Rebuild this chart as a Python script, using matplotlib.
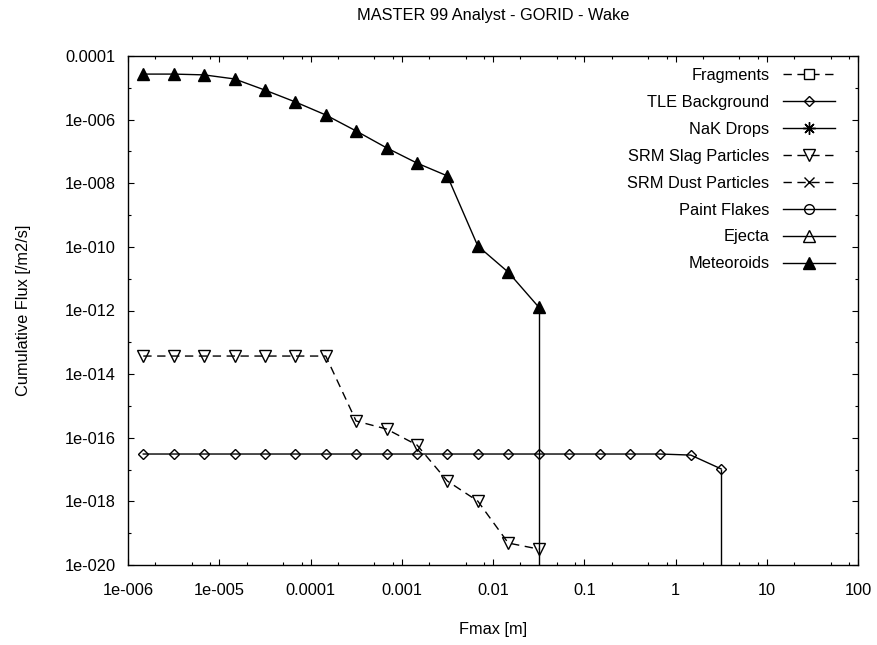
import matplotlib
matplotlib.use('Agg')
import matplotlib.pyplot as plt
from matplotlib.ticker import FixedLocator, NullFormatter

plt.rcParams['font.family'] = ['Liberation Sans', 'DejaVu Sans']

# bin centres of Fmax [m]
fmax = [1.47e-6, 3.16e-6, 6.81e-6, 1.47e-5, 3.16e-5, 6.81e-5, 1.47e-4,
        3.16e-4, 6.81e-4, 1.47e-3, 3.16e-3, 6.81e-3, 1.47e-2, 3.16e-2,
        6.81e-2, 0.147, 0.316, 0.681, 1.47, 3.16]

# cumulative flux [/m2/s]
tle = [3.08e-17] * 18 + [2.85e-17, 1.05e-17]
srm_slag = [3.7e-14, 3.7e-14, 3.7e-14, 3.7e-14, 3.7e-14, 3.7e-14, 3.7e-14,
            3.36e-16, 1.88e-16, 5.9e-17, 4.36e-18, 1.02e-18, 4.9e-20, 3.17e-20]
meteoroids = [2.7e-5, 2.7e-5, 2.55e-5, 1.9e-5, 8.5e-6, 3.6e-6, 1.4e-6,
              4.4e-7, 1.3e-7, 4.3e-8, 1.7e-8, 1.07e-10, 1.6e-11, 1.29e-12]
fragments = []
nak_drops = []
srm_dust = []
paint_flakes = []
ejecta = []

x_ticks = [1e-6, 1e-5, 1e-4, 1e-3, 1e-2, 0.1, 1, 10, 100]
x_labels = ['1e-006', '1e-005', '0.0001', '0.001', '0.01', '0.1', '1', '10', '100']
y_ticks = [1e-4, 1e-6, 1e-8, 1e-10, 1e-12, 1e-14, 1e-16, 1e-18, 1e-20]
y_labels = ['0.0001', '1e-006', '1e-008', '1e-010', '1e-012', '1e-014',
            '1e-016', '1e-018', '1e-020']

fs = 11.8
dash = (6, 4)

fig = plt.figure(figsize=(8.77, 6.45), dpi=100)
ax = fig.add_axes([128/877, 1 - 565/645, 730/877, 509/645])
ax.set_xscale('log')
ax.set_yscale('log')
ax.set_xlim(1e-6, 100)
ax.set_ylim(1e-20, 1e-4)

ax.plot(fragments, fragments[:0], color='black', lw=1, ls=(0, dash),
        marker='s', mfc='white', mec='black', ms=7, label='Fragments')
ax.plot(fmax[:len(tle)], tle, color='black', lw=1, marker='D', mfc='none',
        mec='black', ms=5.5, label='TLE Background')
ax.plot(nak_drops, nak_drops[:0], color='black', lw=1, marker=(8, 2, 0),
        ms=9, mew=1, label='NaK Drops')
ax.plot(fmax[:len(srm_slag)], srm_slag, color='black', lw=1, ls=(0, dash),
        marker='v', mfc='none', mec='black', ms=8.5, label='SRM Slag Particles')
ax.plot(srm_dust, srm_dust[:0], color='black', lw=1, ls=(0, dash),
        marker='x', ms=7, mew=1, label='SRM Dust Particles')
ax.plot(paint_flakes, paint_flakes[:0], color='black', lw=1, marker='o',
        mfc='none', mec='black', ms=7, label='Paint Flakes')
ax.plot(ejecta, ejecta[:0], color='black', lw=1, marker='^', mfc='none',
        mec='black', ms=8, label='Ejecta')
ax.plot(fmax[:len(meteoroids)], meteoroids, color='black', lw=1, marker='^',
        mfc='black', mec='black', ms=8.5, label='Meteoroids')

# curves drop to zero after their last bin
ax.vlines(fmax[len(tle) - 1], 1e-20, tle[-1], color='black', lw=1)
ax.vlines(fmax[len(meteoroids) - 1], 1e-20, meteoroids[-1], color='black', lw=1)

ax.xaxis.set_major_locator(FixedLocator(x_ticks))
ax.set_xticklabels(x_labels)
x_minor = [m * d for d in x_ticks[:-1] for m in (2, 5, 8)]
ax.xaxis.set_minor_locator(FixedLocator(x_minor))
ax.xaxis.set_minor_formatter(NullFormatter())
ax.yaxis.set_major_locator(FixedLocator(y_ticks))
ax.set_yticklabels(y_labels)
y_minor = [t / 10 for t in y_ticks[:-1]]
ax.yaxis.set_minor_locator(FixedLocator(y_minor))
ax.yaxis.set_minor_formatter(NullFormatter())

ax.tick_params(which='both', direction='in', top=True, right=True, labelsize=fs)
ax.tick_params(which='major', length=4, width=0.8)
ax.tick_params(which='minor', length=2.5, width=0.8)
ax.tick_params(axis='x', which='major', pad=13)
ax.tick_params(axis='y', which='major', pad=9)
for sp in ax.spines.values():
    sp.set_linewidth(1)

ax.set_xlabel('Fmax [m]', fontsize=fs)
ax.xaxis.set_label_coords(0.5, -0.112)
ax.set_ylabel('Cumulative Flux [/m2/s]', fontsize=fs)
ax.yaxis.set_label_coords(-0.133, 0.5)
ax.set_title('MASTER 99 Analyst - GORID - Wake', fontsize=fs, pad=26)

leg = ax.legend(loc='upper right', bbox_to_anchor=(0.9685, 0.977), frameon=False,
                markerfirst=False, fontsize=fs, handlelength=3.2,
                handletextpad=0.8, labelspacing=0.73, borderpad=0,
                borderaxespad=0)

fig.savefig('out.png', dpi=100)
